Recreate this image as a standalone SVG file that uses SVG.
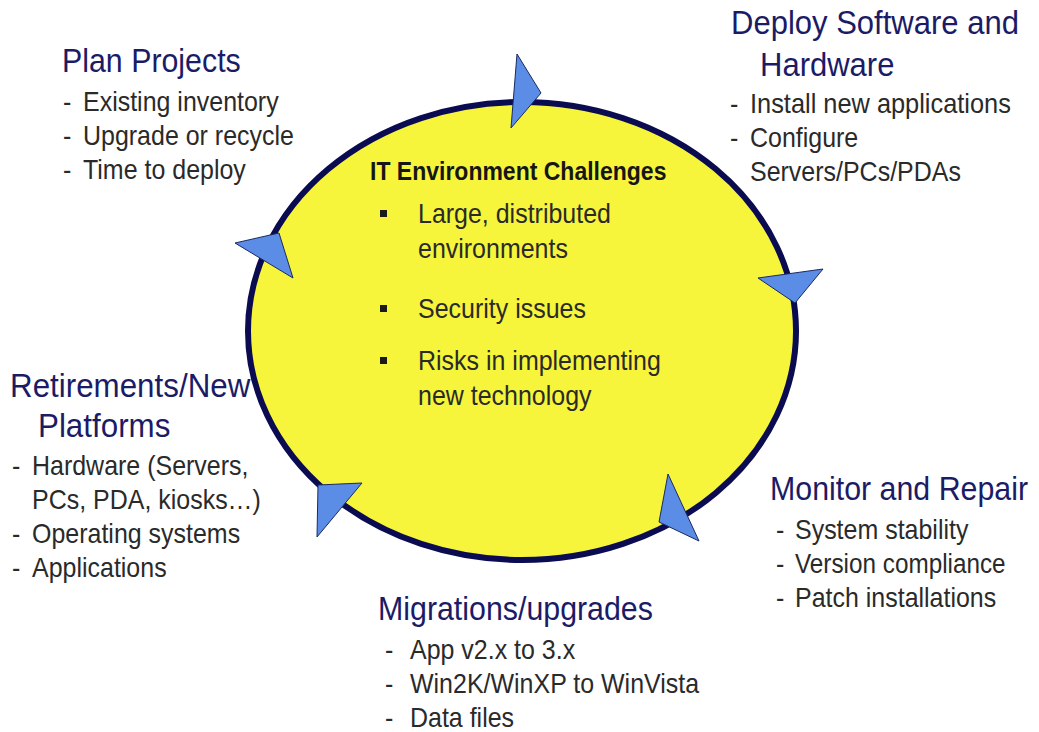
<svg xmlns="http://www.w3.org/2000/svg" width="1039" height="732" viewBox="0 0 1039 732">
  <style>
    text  { font-family: "Liberation Sans", Arial, sans-serif; }
    .title { font-size: 33px; fill: #1b1b66; }
    .item  { font-size: 27px; fill: #2a2a2a; }
    .head  { font-size: 25px; font-weight: bold; fill: #161616; }
    .tip   { fill: #5b8ce6; stroke: #1a2a60; stroke-width: 1; stroke-linejoin: miter; }
  </style>

  <rect width="1039" height="732" fill="#ffffff"/>

  <!-- central cycle; all labels use a slightly condensed face (x-scale ~0.92) -->
  <g id="cycle">
    <ellipse cx="522" cy="331" rx="274" ry="229" fill="#f6f53c" stroke="#0b0b52" stroke-width="6"/>
    <text class="head" transform="matrix(0.92 0 0 1 370 180)">IT Environment Challenges</text>
    <rect x="380" y="210" width="7" height="7" fill="#1a1a1a"/>
    <text class="item" transform="matrix(0.925 0 0 1 418 223)">Large, distributed</text>
    <text class="item" transform="matrix(0.925 0 0 1 418 258)">environments</text>
    <rect x="380" y="305" width="7" height="7" fill="#1a1a1a"/>
    <text class="item" transform="matrix(0.925 0 0 1 418 318)">Security issues</text>
    <rect x="380" y="357" width="7" height="7" fill="#1a1a1a"/>
    <text class="item" transform="matrix(0.925 0 0 1 418 370)">Risks in implementing</text>
    <text class="item" transform="matrix(0.925 0 0 1 418 405)">new technology</text>
  </g>

  <!-- direction arrowheads on the cycle -->
  <g id="connectors">
    <polygon class="tip" points="517,54 541,93 511,128"/>
    <polygon class="tip" points="758,278 823,269 795,303"/>
    <polygon class="tip" points="668,474 659,522 699,541"/>
    <polygon class="tip" points="362,483 318,485 317,537"/>
    <polygon class="tip" points="293,278 279,233 235,243"/>
  </g>

  <g id="plan-projects">
    <text class="title" transform="matrix(0.92 0 0 1 62 72)">Plan Projects</text>
    <text class="item" transform="matrix(0.925 0 0 1 63 111)">-</text>
    <text class="item" transform="matrix(0.925 0 0 1 83 111)">Existing inventory</text>
    <text class="item" transform="matrix(0.925 0 0 1 63 145)">-</text>
    <text class="item" transform="matrix(0.925 0 0 1 83 145)">Upgrade or recycle</text>
    <text class="item" transform="matrix(0.925 0 0 1 63 179)">-</text>
    <text class="item" transform="matrix(0.925 0 0 1 83 179)">Time to deploy</text>
  </g>

  <g id="deploy">
    <text class="title" transform="matrix(0.94 0 0 1 731 34)">Deploy Software and</text>
    <text class="title" transform="matrix(0.94 0 0 1 760 76)">Hardware</text>
    <text class="item" transform="matrix(0.925 0 0 1 730 113)">-</text>
    <text class="item" transform="matrix(0.94 0 0 1 750 113)">Install new applications</text>
    <text class="item" transform="matrix(0.925 0 0 1 730 147)">-</text>
    <text class="item" transform="matrix(0.925 0 0 1 750 147)">Configure</text>
    <text class="item" transform="matrix(0.925 0 0 1 750 181)">Servers/PCs/PDAs</text>
  </g>

  <g id="monitor">
    <text class="title" transform="matrix(0.92 0 0 1 770 500)">Monitor and Repair</text>
    <text class="item" transform="matrix(0.925 0 0 1 776 539)">-</text>
    <text class="item" transform="matrix(0.925 0 0 1 795 539)">System stability</text>
    <text class="item" transform="matrix(0.925 0 0 1 776 573)">-</text>
    <text class="item" transform="matrix(0.9 0 0 1 795 573)">Version compliance</text>
    <text class="item" transform="matrix(0.925 0 0 1 776 607)">-</text>
    <text class="item" transform="matrix(0.925 0 0 1 795 607)">Patch installations</text>
  </g>

  <g id="migrations">
    <text class="title" transform="matrix(0.92 0 0 1 378 620)">Migrations/upgrades</text>
    <text class="item" transform="matrix(0.925 0 0 1 385 659)">-</text>
    <text class="item" transform="matrix(0.925 0 0 1 410 659)">App v2.x to 3.x</text>
    <text class="item" transform="matrix(0.925 0 0 1 385 693)">-</text>
    <text class="item" transform="matrix(0.925 0 0 1 410 693)">Win2K/WinXP to WinVista</text>
    <text class="item" transform="matrix(0.925 0 0 1 385 727)">-</text>
    <text class="item" transform="matrix(0.925 0 0 1 410 727)">Data files</text>
  </g>

  <g id="retirements">
    <text class="title" transform="matrix(0.95 0 0 1 10 397)">Retirements/New</text>
    <text class="title" transform="matrix(0.95 0 0 1 38 437)">Platforms</text>
    <text class="item" transform="matrix(0.925 0 0 1 12 475)">-</text>
    <text class="item" transform="matrix(0.925 0 0 1 32 475)">Hardware (Servers,</text>
    <text class="item" transform="matrix(0.925 0 0 1 32 509)">PCs, PDA, kiosks…)</text>
    <text class="item" transform="matrix(0.925 0 0 1 12 543)">-</text>
    <text class="item" transform="matrix(0.925 0 0 1 32 543)">Operating systems</text>
    <text class="item" transform="matrix(0.925 0 0 1 12 577)">-</text>
    <text class="item" transform="matrix(0.925 0 0 1 32 577)">Applications</text>
  </g>
</svg>
